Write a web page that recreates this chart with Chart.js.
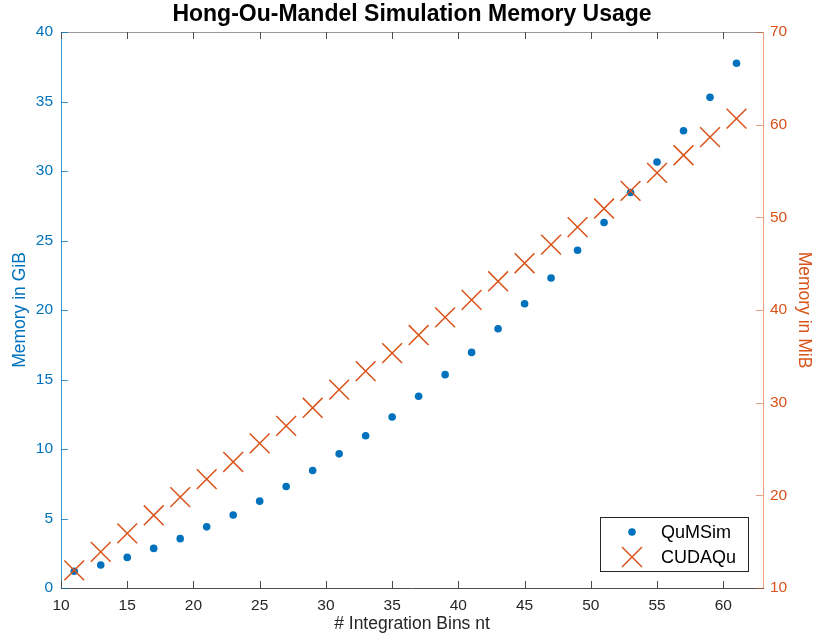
<!DOCTYPE html>
<html>
<head>
<meta charset="utf-8">
<title>Hong-Ou-Mandel Simulation Memory Usage</title>
<script src="https://cdn.jsdelivr.net/npm/chart.js@4.4.1/dist/chart.umd.min.js"></script>
<style>
  html, body { margin: 0; padding: 0; background: #fff; }
  #wrap { width: 817px; height: 640px; }
</style>
</head>
<body>
<div id="wrap"><canvas id="memChart"></canvas></div>
<script>
// data
const bins = [11, 13, 15, 17, 19, 21, 23, 25, 27, 29, 31, 33, 35, 37, 39, 41, 43, 45, 47, 49, 51, 53, 55, 57, 59, 61];
const qumsimGiB = [1.2, 1.65, 2.2, 2.85, 3.55, 4.4, 5.25, 6.25, 7.3, 8.45, 9.65, 10.95, 12.3, 13.8, 15.35, 16.95, 18.65, 20.45, 22.3, 24.3, 26.3, 28.45, 30.65, 32.9, 35.3, 37.75];
const cudaquMiB = [11.9, 13.9, 15.9, 17.85, 19.8, 21.75, 23.6, 25.6, 27.5, 29.45, 31.4, 33.4, 35.35, 37.3, 39.2, 41.1, 43.1, 45.05, 47.05, 48.95, 50.95, 52.85, 54.8, 56.7, 58.65, 60.65];
const xTicks = [10, 15, 20, 25, 30, 35, 40, 45, 50, 55, 60];
const leftTicks = [0, 5, 10, 15, 20, 25, 30, 35, 40];
const rightTicks = [10, 20, 30, 40, 50, 60, 70];

const BLUE = '#0072BD';
const ORANGE = '#D95319';
const FONT = '"Liberation Sans", Arial, Helvetica, sans-serif';

function toPoints(xs, ys) {
    return xs.map((x, i) => ({ x: x, y: ys[i] }));
}

// MATLAB style: ticks pointing inward, box line on top, legend inside lower right
const axesDecor = {
    id: 'axesDecor',
    afterDraw(chart) {
        const ctx = chart.ctx;
        const a = chart.chartArea;
        const x = chart.scales.x;
        const yl = chart.scales.yLeft;
        const yr = chart.scales.yRight;
        const tick = 7;
        ctx.save();
        ctx.lineWidth = 1;

        ctx.strokeStyle = '#9a9a9a';
        ctx.beginPath();
        ctx.moveTo(a.left, Math.round(a.top) + 0.5);
        ctx.lineTo(a.right, Math.round(a.top) + 0.5);
        ctx.stroke();

        ctx.strokeStyle = '#4d4d4d';
        ctx.beginPath();
        xTicks.forEach(v => {
            const px = Math.round(x.getPixelForValue(v)) + 0.5;
            ctx.moveTo(px, a.bottom);
            ctx.lineTo(px, a.bottom - tick);
            ctx.moveTo(px, a.top);
            ctx.lineTo(px, a.top + tick);
        });
        ctx.stroke();

        ctx.strokeStyle = 'rgba(0,114,189,0.75)';
        ctx.beginPath();
        leftTicks.forEach(v => {
            const py = Math.round(yl.getPixelForValue(v)) + 0.5;
            ctx.moveTo(a.left, py);
            ctx.lineTo(a.left + tick, py);
        });
        ctx.stroke();

        ctx.strokeStyle = 'rgba(217,83,25,0.55)';
        ctx.beginPath();
        rightTicks.forEach(v => {
            const py = Math.round(yr.getPixelForValue(v)) + 0.5;
            ctx.moveTo(a.right, py);
            ctx.lineTo(a.right - tick, py);
        });
        ctx.stroke();

        // legend box
        const bx = 600.5, by = 517.5, bw = 148, bh = 54;
        ctx.fillStyle = '#fff';
        ctx.fillRect(bx, by, bw, bh);
        ctx.strokeStyle = '#262626';
        ctx.strokeRect(bx, by, bw, bh);

        const ds = chart.data.datasets;
        const mx = 632, tx = 661;
        const rows = [532, 557];
        ctx.font = '18px ' + FONT;
        ctx.textBaseline = 'middle';
        ctx.textAlign = 'left';
        ds.forEach((d, i) => {
            const my = rows[i];
            if (d.pointStyle === 'circle') {
                ctx.fillStyle = d.backgroundColor;
                ctx.beginPath();
                ctx.arc(mx, my, d.pointRadius, 0, Math.PI * 2);
                ctx.fill();
            } else {
                const h = 10;
                ctx.strokeStyle = d.borderColor;
                ctx.lineWidth = d.borderWidth;
                ctx.beginPath();
                ctx.moveTo(mx - h, my - h);
                ctx.lineTo(mx + h, my + h);
                ctx.moveTo(mx - h, my + h);
                ctx.lineTo(mx + h, my - h);
                ctx.stroke();
                ctx.lineWidth = 1;
            }
            ctx.fillStyle = '#000';
            ctx.fillText(d.label, tx, my + 1);
        });
        ctx.restore();
    }
};

document.addEventListener('DOMContentLoaded', function() {
    const ctx = document.getElementById('memChart');
    new Chart(ctx, {
        type: 'scatter',
        data: {
            datasets: [{
                label: 'QuMSim',
                data: toPoints(bins, qumsimGiB),
                yAxisID: 'yLeft',
                pointStyle: 'circle',
                pointRadius: 3.8,
                backgroundColor: BLUE,
                borderColor: BLUE,
                borderWidth: 0,
                order: 2
            }, {
                label: 'CUDAQu',
                data: toPoints(bins, cudaquMiB),
                yAxisID: 'yRight',
                pointStyle: 'crossRot',
                pointRadius: 14,
                backgroundColor: ORANGE,
                borderColor: ORANGE,
                borderWidth: 1.5,
                order: 1
            }]
        },
        options: {
            responsive: true,
            maintainAspectRatio: false,
            animation: false,
            layout: { padding: { left: 7, right: 0, top: 0, bottom: 0 } },
            scales: {
                x: {
                    type: 'linear',
                    min: 10,
                    max: 63,
                    afterBuildTicks: s => { s.ticks = xTicks.map(v => ({ value: v })); },
                    afterFit: s => { s.height = 52; },
                    grid: { display: false, drawTicks: false },
                    border: { display: true, color: '#4d4d4d', width: 1 },
                    ticks: { color: '#262626', padding: 8, maxRotation: 0, font: { family: FONT, size: 15.5 } },
                    title: {
                        display: true,
                        text: '# Integration Bins nt',
                        color: '#262626',
                        font: { family: FONT, size: 17.5 },
                        padding: { top: 0, bottom: 5 }
                    }
                },
                yLeft: {
                    type: 'linear',
                    position: 'left',
                    min: 0,
                    max: 40,
                    afterBuildTicks: s => { s.ticks = leftTicks.map(v => ({ value: v })); },
                    afterFit: s => { s.width = 54; },
                    grid: { display: false, drawTicks: false },
                    border: { display: true, color: 'rgba(0,114,189,0.75)', width: 1 },
                    ticks: { color: BLUE, padding: 8, font: { family: FONT, size: 15.5 } },
                    title: {
                        display: true,
                        text: 'Memory in GiB',
                        color: BLUE,
                        font: { family: FONT, size: 17.5 },
                        padding: { top: 2.5, bottom: 0 }
                    }
                },
                yRight: {
                    type: 'linear',
                    position: 'right',
                    min: 10,
                    max: 70,
                    afterBuildTicks: s => { s.ticks = rightTicks.map(v => ({ value: v })); },
                    afterFit: s => { s.width = 54; },
                    grid: { display: false, drawTicks: false },
                    border: { display: true, color: 'rgba(217,83,25,0.55)', width: 1 },
                    ticks: { color: ORANGE, padding: 7, font: { family: FONT, size: 15.5 } },
                    title: {
                        display: true,
                        text: 'Memory in MiB',
                        color: ORANGE,
                        font: { family: FONT, size: 17.5 },
                        padding: { top: 3, bottom: 0 }
                    }
                }
            },
            plugins: {
                legend: { display: false },
                tooltip: { enabled: false },
                title: {
                    display: true,
                    text: 'Hong-Ou-Mandel Simulation Memory Usage',
                    color: '#000',
                    font: { family: FONT, size: 23, weight: 'bold' },
                    padding: { top: 0.5, bottom: 3.9 }
                }
            }
        },
        plugins: [axesDecor]
    });
});
</script>
</body>
</html>
